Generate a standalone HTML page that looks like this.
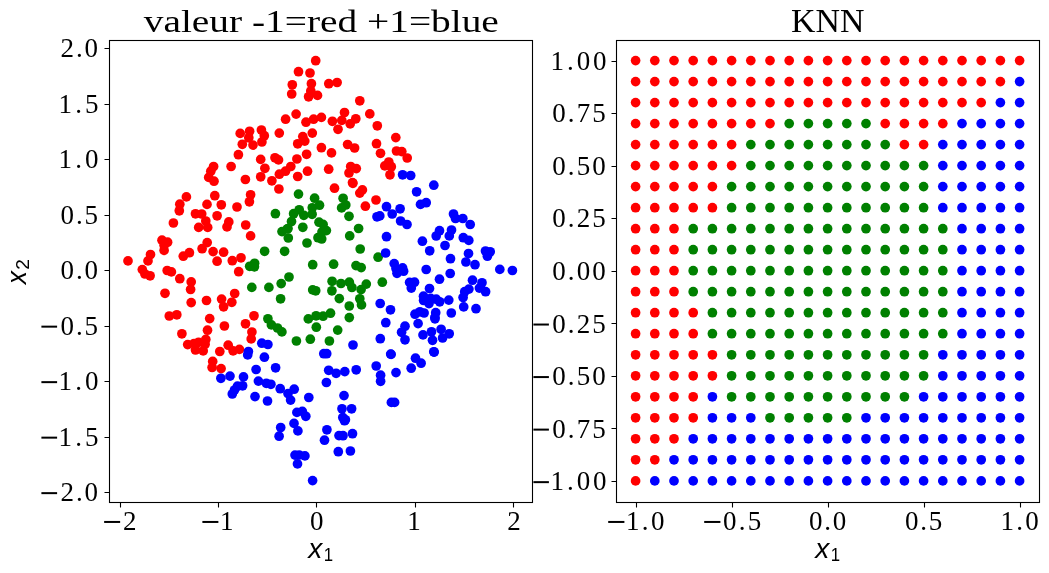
<!DOCTYPE html><html><head><meta charset="utf-8"><style>html,body{margin:0;padding:0;background:#fff;}svg{display:block;will-change:transform;}text{font-family:"Liberation Serif",serif;fill:#000;}</style></head><body><svg width="1049" height="573" viewBox="0 0 1049 573"><rect width="1049" height="573" fill="#fff"/><g fill="#ff0000"><circle cx="315.7" cy="60.7" r="4.85"/><circle cx="298.5" cy="71.7" r="4.85"/><circle cx="310.0" cy="73.0" r="4.85"/><circle cx="292.3" cy="84.8" r="4.85"/><circle cx="311.4" cy="83.7" r="4.85"/><circle cx="291.7" cy="94.0" r="4.85"/><circle cx="308.6" cy="96.8" r="4.85"/><circle cx="317.5" cy="95.4" r="4.85"/><circle cx="310.8" cy="91.0" r="4.85"/><circle cx="328.8" cy="83.7" r="4.85"/><circle cx="337.1" cy="82.5" r="4.85"/><circle cx="359.8" cy="100.8" r="4.85"/><circle cx="296.1" cy="114.1" r="4.85"/><circle cx="285.6" cy="119.2" r="4.85"/><circle cx="306.0" cy="122.2" r="4.85"/><circle cx="313.6" cy="119.2" r="4.85"/><circle cx="321.4" cy="117.4" r="4.85"/><circle cx="332.4" cy="121.3" r="4.85"/><circle cx="344.5" cy="112.5" r="4.85"/><circle cx="341.8" cy="120.4" r="4.85"/><circle cx="338.0" cy="129.3" r="4.85"/><circle cx="350.2" cy="123.9" r="4.85"/><circle cx="355.8" cy="118.8" r="4.85"/><circle cx="369.8" cy="113.9" r="4.85"/><circle cx="377.3" cy="125.8" r="4.85"/><circle cx="312.3" cy="133.1" r="4.85"/><circle cx="279.3" cy="133.1" r="4.85"/><circle cx="302.8" cy="136.6" r="4.85"/><circle cx="240.2" cy="133.4" r="4.85"/><circle cx="249.6" cy="131.3" r="4.85"/><circle cx="261.4" cy="130.0" r="4.85"/><circle cx="264.3" cy="135.7" r="4.85"/><circle cx="242.3" cy="144.3" r="4.85"/><circle cx="253.0" cy="145.1" r="4.85"/><circle cx="261.9" cy="142.0" r="4.85"/><circle cx="248.8" cy="137.8" r="4.85"/><circle cx="395.8" cy="137.6" r="4.85"/><circle cx="376.5" cy="143.7" r="4.85"/><circle cx="380.5" cy="153.3" r="4.85"/><circle cx="396.5" cy="151.0" r="4.85"/><circle cx="401.8" cy="151.6" r="4.85"/><circle cx="407.2" cy="158.0" r="4.85"/><circle cx="388.8" cy="162.0" r="4.85"/><circle cx="384.8" cy="165.9" r="4.85"/><circle cx="391.3" cy="166.7" r="4.85"/><circle cx="390.0" cy="174.8" r="4.85"/><circle cx="297.7" cy="143.8" r="4.85"/><circle cx="238.4" cy="154.7" r="4.85"/><circle cx="260.7" cy="159.4" r="4.85"/><circle cx="275.0" cy="157.8" r="4.85"/><circle cx="278.5" cy="159.9" r="4.85"/><circle cx="296.9" cy="159.0" r="4.85"/><circle cx="213.6" cy="166.5" r="4.85"/><circle cx="210.8" cy="171.2" r="4.85"/><circle cx="231.1" cy="166.5" r="4.85"/><circle cx="264.9" cy="168.3" r="4.85"/><circle cx="290.8" cy="166.5" r="4.85"/><circle cx="285.5" cy="171.2" r="4.85"/><circle cx="279.4" cy="174.2" r="4.85"/><circle cx="208.7" cy="177.4" r="4.85"/><circle cx="214.0" cy="181.2" r="4.85"/><circle cx="245.4" cy="179.5" r="4.85"/><circle cx="260.7" cy="176.8" r="4.85"/><circle cx="271.9" cy="180.8" r="4.85"/><circle cx="297.7" cy="176.5" r="4.85"/><circle cx="278.9" cy="189.0" r="4.85"/><circle cx="214.8" cy="195.7" r="4.85"/><circle cx="250.6" cy="194.8" r="4.85"/><circle cx="249.4" cy="201.8" r="4.85"/><circle cx="207.0" cy="204.4" r="4.85"/><circle cx="221.3" cy="204.8" r="4.85"/><circle cx="237.0" cy="207.0" r="4.85"/><circle cx="201.7" cy="214.0" r="4.85"/><circle cx="217.1" cy="215.8" r="4.85"/><circle cx="205.8" cy="221.0" r="4.85"/><circle cx="228.8" cy="221.9" r="4.85"/><circle cx="245.7" cy="225.0" r="4.85"/><circle cx="304.8" cy="141.1" r="4.85"/><circle cx="321.4" cy="147.7" r="4.85"/><circle cx="331.5" cy="152.9" r="4.85"/><circle cx="347.6" cy="144.5" r="4.85"/><circle cx="354.6" cy="148.0" r="4.85"/><circle cx="306.6" cy="154.3" r="4.85"/><circle cx="307.5" cy="171.2" r="4.85"/><circle cx="328.7" cy="169.2" r="4.85"/><circle cx="350.7" cy="166.5" r="4.85"/><circle cx="356.3" cy="168.6" r="4.85"/><circle cx="349.0" cy="173.0" r="4.85"/><circle cx="352.5" cy="182.6" r="4.85"/><circle cx="334.5" cy="188.2" r="4.85"/><circle cx="359.8" cy="193.1" r="4.85"/><circle cx="362.4" cy="189.9" r="4.85"/><circle cx="376.0" cy="200.0" r="4.85"/><circle cx="365.4" cy="206.2" r="4.85"/><circle cx="352.9" cy="183.3" r="4.85"/><circle cx="186.4" cy="196.9" r="4.85"/><circle cx="179.8" cy="204.2" r="4.85"/><circle cx="179.3" cy="210.8" r="4.85"/><circle cx="173.4" cy="223.0" r="4.85"/><circle cx="195.5" cy="213.8" r="4.85"/><circle cx="198.7" cy="227.4" r="4.85"/><circle cx="207.7" cy="227.4" r="4.85"/><circle cx="162.0" cy="240.2" r="4.85"/><circle cx="164.1" cy="245.5" r="4.85"/><circle cx="167.6" cy="242.2" r="4.85"/><circle cx="164.1" cy="250.4" r="4.85"/><circle cx="207.2" cy="242.6" r="4.85"/><circle cx="202.1" cy="248.7" r="4.85"/><circle cx="150.5" cy="254.5" r="4.85"/><circle cx="148.0" cy="260.9" r="4.85"/><circle cx="128.0" cy="260.9" r="4.85"/><circle cx="183.3" cy="256.2" r="4.85"/><circle cx="189.4" cy="252.7" r="4.85"/><circle cx="142.3" cy="269.6" r="4.85"/><circle cx="150.1" cy="275.8" r="4.85"/><circle cx="144.9" cy="274.0" r="4.85"/><circle cx="167.2" cy="270.5" r="4.85"/><circle cx="171.4" cy="271.9" r="4.85"/><circle cx="179.8" cy="278.7" r="4.85"/><circle cx="191.2" cy="281.9" r="4.85"/><circle cx="227.0" cy="226.9" r="4.85"/><circle cx="250.6" cy="235.9" r="4.85"/><circle cx="213.1" cy="251.6" r="4.85"/><circle cx="223.6" cy="252.2" r="4.85"/><circle cx="217.1" cy="261.2" r="4.85"/><circle cx="232.3" cy="260.7" r="4.85"/><circle cx="241.0" cy="257.8" r="4.85"/><circle cx="238.7" cy="271.7" r="4.85"/><circle cx="206.5" cy="300.5" r="4.85"/><circle cx="221.6" cy="299.1" r="4.85"/><circle cx="234.7" cy="293.5" r="4.85"/><circle cx="231.8" cy="302.3" r="4.85"/><circle cx="223.6" cy="306.8" r="4.85"/><circle cx="190.6" cy="289.5" r="4.85"/><circle cx="165.0" cy="293.3" r="4.85"/><circle cx="191.2" cy="302.6" r="4.85"/><circle cx="169.3" cy="316.0" r="4.85"/><circle cx="176.8" cy="314.8" r="4.85"/><circle cx="209.7" cy="318.6" r="4.85"/><circle cx="181.9" cy="333.8" r="4.85"/><circle cx="207.5" cy="330.2" r="4.85"/><circle cx="205.8" cy="339.4" r="4.85"/><circle cx="187.7" cy="344.6" r="4.85"/><circle cx="194.0" cy="343.5" r="4.85"/><circle cx="198.6" cy="342.3" r="4.85"/><circle cx="195.5" cy="350.0" r="4.85"/><circle cx="203.2" cy="350.9" r="4.85"/><circle cx="205.1" cy="344.2" r="4.85"/><circle cx="212.7" cy="361.4" r="4.85"/><circle cx="212.1" cy="367.5" r="4.85"/><circle cx="221.1" cy="368.6" r="4.85"/><circle cx="254.0" cy="315.8" r="4.85"/><circle cx="224.4" cy="326.0" r="4.85"/><circle cx="245.5" cy="323.8" r="4.85"/><circle cx="251.9" cy="332.0" r="4.85"/><circle cx="251.2" cy="338.9" r="4.85"/><circle cx="219.8" cy="351.5" r="4.85"/><circle cx="228.2" cy="345.2" r="4.85"/><circle cx="233.1" cy="350.8" r="4.85"/><circle cx="239.4" cy="349.4" r="4.85"/></g><g fill="#008000"><circle cx="298.5" cy="194.1" r="4.85"/><circle cx="314.6" cy="198.2" r="4.85"/><circle cx="319.5" cy="205.2" r="4.85"/><circle cx="312.3" cy="207.8" r="4.85"/><circle cx="312.1" cy="214.3" r="4.85"/><circle cx="299.2" cy="209.8" r="4.85"/><circle cx="293.6" cy="213.7" r="4.85"/><circle cx="303.8" cy="215.3" r="4.85"/><circle cx="291.5" cy="221.5" r="4.85"/><circle cx="288.0" cy="228.5" r="4.85"/><circle cx="302.8" cy="227.3" r="4.85"/><circle cx="319.0" cy="222.2" r="4.85"/><circle cx="323.1" cy="224.4" r="4.85"/><circle cx="326.4" cy="230.6" r="4.85"/><circle cx="322.0" cy="232.0" r="4.85"/><circle cx="318.0" cy="237.7" r="4.85"/><circle cx="321.7" cy="239.0" r="4.85"/><circle cx="307.0" cy="243.0" r="4.85"/><circle cx="288.3" cy="238.0" r="4.85"/><circle cx="343.1" cy="198.3" r="4.85"/><circle cx="345.8" cy="205.0" r="4.85"/><circle cx="341.6" cy="207.9" r="4.85"/><circle cx="349.0" cy="216.3" r="4.85"/><circle cx="358.6" cy="228.5" r="4.85"/><circle cx="275.4" cy="213.7" r="4.85"/><circle cx="282.0" cy="231.6" r="4.85"/><circle cx="287.3" cy="229.0" r="4.85"/><circle cx="264.6" cy="251.3" r="4.85"/><circle cx="284.6" cy="251.3" r="4.85"/><circle cx="249.7" cy="266.3" r="4.85"/><circle cx="254.6" cy="263.3" r="4.85"/><circle cx="254.4" cy="266.8" r="4.85"/><circle cx="289.0" cy="277.0" r="4.85"/><circle cx="281.2" cy="283.6" r="4.85"/><circle cx="251.8" cy="287.4" r="4.85"/><circle cx="268.9" cy="287.4" r="4.85"/><circle cx="280.6" cy="298.8" r="4.85"/><circle cx="349.7" cy="235.9" r="4.85"/><circle cx="360.2" cy="249.0" r="4.85"/><circle cx="378.1" cy="257.2" r="4.85"/><circle cx="312.7" cy="264.7" r="4.85"/><circle cx="333.6" cy="264.2" r="4.85"/><circle cx="356.0" cy="265.6" r="4.85"/><circle cx="361.2" cy="267.6" r="4.85"/><circle cx="332.1" cy="281.3" r="4.85"/><circle cx="341.0" cy="283.5" r="4.85"/><circle cx="349.3" cy="282.2" r="4.85"/><circle cx="351.9" cy="287.5" r="4.85"/><circle cx="366.3" cy="284.1" r="4.85"/><circle cx="361.1" cy="289.6" r="4.85"/><circle cx="382.3" cy="282.2" r="4.85"/><circle cx="312.7" cy="289.9" r="4.85"/><circle cx="315.7" cy="290.8" r="4.85"/><circle cx="331.9" cy="290.8" r="4.85"/><circle cx="339.3" cy="298.6" r="4.85"/><circle cx="359.8" cy="298.8" r="4.85"/><circle cx="361.5" cy="304.9" r="4.85"/><circle cx="349.3" cy="306.0" r="4.85"/><circle cx="330.5" cy="313.2" r="4.85"/><circle cx="323.1" cy="316.2" r="4.85"/><circle cx="316.1" cy="315.8" r="4.85"/><circle cx="308.3" cy="318.9" r="4.85"/><circle cx="349.3" cy="317.6" r="4.85"/><circle cx="267.9" cy="318.8" r="4.85"/><circle cx="271.4" cy="324.9" r="4.85"/><circle cx="277.5" cy="328.0" r="4.85"/><circle cx="281.9" cy="331.9" r="4.85"/><circle cx="316.3" cy="327.2" r="4.85"/><circle cx="310.3" cy="339.2" r="4.85"/><circle cx="296.4" cy="341.0" r="4.85"/><circle cx="329.4" cy="341.0" r="4.85"/><circle cx="337.7" cy="330.1" r="4.85"/></g><g fill="#0000ff"><circle cx="402.6" cy="174.8" r="4.85"/><circle cx="410.7" cy="175.5" r="4.85"/><circle cx="433.8" cy="185.2" r="4.85"/><circle cx="416.6" cy="191.8" r="4.85"/><circle cx="420.5" cy="204.4" r="4.85"/><circle cx="426.2" cy="202.7" r="4.85"/><circle cx="386.5" cy="206.7" r="4.85"/><circle cx="400.1" cy="208.8" r="4.85"/><circle cx="392.2" cy="214.0" r="4.85"/><circle cx="377.0" cy="216.8" r="4.85"/><circle cx="379.8" cy="215.9" r="4.85"/><circle cx="400.6" cy="221.0" r="4.85"/><circle cx="407.0" cy="224.5" r="4.85"/><circle cx="453.5" cy="214.0" r="4.85"/><circle cx="455.5" cy="218.5" r="4.85"/><circle cx="462.8" cy="218.5" r="4.85"/><circle cx="470.2" cy="224.5" r="4.85"/><circle cx="386.5" cy="236.7" r="4.85"/><circle cx="385.6" cy="253.0" r="4.85"/><circle cx="394.2" cy="263.6" r="4.85"/><circle cx="402.6" cy="267.9" r="4.85"/><circle cx="397.0" cy="273.3" r="4.85"/><circle cx="396.0" cy="268.5" r="4.85"/><circle cx="403.6" cy="271.2" r="4.85"/><circle cx="422.4" cy="241.2" r="4.85"/><circle cx="429.7" cy="250.8" r="4.85"/><circle cx="439.5" cy="230.7" r="4.85"/><circle cx="436.2" cy="236.0" r="4.85"/><circle cx="451.5" cy="230.0" r="4.85"/><circle cx="449.3" cy="235.9" r="4.85"/><circle cx="445.0" cy="245.5" r="4.85"/><circle cx="463.3" cy="237.7" r="4.85"/><circle cx="468.8" cy="240.4" r="4.85"/><circle cx="468.5" cy="253.5" r="4.85"/><circle cx="465.9" cy="262.0" r="4.85"/><circle cx="475.0" cy="264.7" r="4.85"/><circle cx="450.5" cy="258.7" r="4.85"/><circle cx="426.2" cy="269.5" r="4.85"/><circle cx="450.2" cy="273.5" r="4.85"/><circle cx="439.5" cy="279.2" r="4.85"/><circle cx="409.6" cy="282.4" r="4.85"/><circle cx="414.5" cy="282.2" r="4.85"/><circle cx="411.3" cy="288.1" r="4.85"/><circle cx="429.5" cy="288.5" r="4.85"/><circle cx="423.5" cy="296.2" r="4.85"/><circle cx="430.7" cy="298.4" r="4.85"/><circle cx="429.0" cy="303.6" r="4.85"/><circle cx="436.2" cy="299.2" r="4.85"/><circle cx="439.7" cy="301.8" r="4.85"/><circle cx="448.8" cy="300.1" r="4.85"/><circle cx="472.5" cy="280.2" r="4.85"/><circle cx="482.0" cy="282.8" r="4.85"/><circle cx="479.4" cy="288.1" r="4.85"/><circle cx="485.6" cy="291.7" r="4.85"/><circle cx="468.9" cy="289.1" r="4.85"/><circle cx="464.7" cy="291.7" r="4.85"/><circle cx="463.1" cy="297.5" r="4.85"/><circle cx="463.7" cy="306.9" r="4.85"/><circle cx="476.0" cy="308.7" r="4.85"/><circle cx="451.3" cy="313.0" r="4.85"/><circle cx="380.2" cy="303.5" r="4.85"/><circle cx="390.5" cy="309.8" r="4.85"/><circle cx="415.0" cy="314.2" r="4.85"/><circle cx="419.9" cy="311.8" r="4.85"/><circle cx="424.1" cy="313.0" r="4.85"/><circle cx="435.7" cy="312.7" r="4.85"/><circle cx="434.9" cy="317.5" r="4.85"/><circle cx="485.5" cy="251.0" r="4.85"/><circle cx="490.2" cy="251.8" r="4.85"/><circle cx="487.4" cy="256.2" r="4.85"/><circle cx="499.8" cy="269.4" r="4.85"/><circle cx="512.4" cy="270.5" r="4.85"/><circle cx="385.8" cy="322.7" r="4.85"/><circle cx="423.6" cy="300.5" r="4.85"/><circle cx="418.1" cy="323.6" r="4.85"/><circle cx="405.0" cy="326.2" r="4.85"/><circle cx="401.6" cy="332.3" r="4.85"/><circle cx="405.0" cy="339.8" r="4.85"/><circle cx="423.0" cy="334.9" r="4.85"/><circle cx="380.3" cy="338.7" r="4.85"/><circle cx="353.0" cy="345.0" r="4.85"/><circle cx="390.7" cy="354.1" r="4.85"/><circle cx="415.5" cy="358.2" r="4.85"/><circle cx="421.1" cy="363.2" r="4.85"/><circle cx="411.2" cy="368.2" r="4.85"/><circle cx="376.2" cy="366.0" r="4.85"/><circle cx="380.6" cy="375.2" r="4.85"/><circle cx="380.6" cy="381.3" r="4.85"/><circle cx="396.0" cy="372.6" r="4.85"/><circle cx="356.2" cy="369.8" r="4.85"/><circle cx="344.8" cy="371.6" r="4.85"/><circle cx="336.1" cy="373.3" r="4.85"/><circle cx="328.7" cy="370.3" r="4.85"/><circle cx="326.4" cy="382.5" r="4.85"/><circle cx="344.0" cy="395.6" r="4.85"/><circle cx="323.8" cy="353.7" r="4.85"/><circle cx="326.7" cy="353.7" r="4.85"/><circle cx="434.2" cy="352.1" r="4.85"/><circle cx="435.0" cy="318.8" r="4.85"/><circle cx="431.5" cy="331.8" r="4.85"/><circle cx="441.1" cy="329.3" r="4.85"/><circle cx="449.2" cy="333.8" r="4.85"/><circle cx="442.6" cy="338.0" r="4.85"/><circle cx="432.5" cy="340.3" r="4.85"/><circle cx="433.8" cy="351.8" r="4.85"/><circle cx="391.4" cy="402.4" r="4.85"/><circle cx="394.6" cy="402.4" r="4.85"/><circle cx="391.1" cy="354.4" r="4.85"/><circle cx="248.4" cy="351.5" r="4.85"/><circle cx="247.7" cy="354.9" r="4.85"/><circle cx="256.1" cy="369.5" r="4.85"/><circle cx="261.8" cy="343.2" r="4.85"/><circle cx="267.9" cy="344.5" r="4.85"/><circle cx="264.4" cy="357.2" r="4.85"/><circle cx="275.6" cy="367.8" r="4.85"/><circle cx="243.5" cy="376.9" r="4.85"/><circle cx="242.6" cy="385.8" r="4.85"/><circle cx="258.4" cy="381.1" r="4.85"/><circle cx="266.3" cy="383.3" r="4.85"/><circle cx="270.9" cy="384.3" r="4.85"/><circle cx="280.2" cy="388.7" r="4.85"/><circle cx="294.2" cy="389.2" r="4.85"/><circle cx="220.9" cy="378.3" r="4.85"/><circle cx="230.0" cy="376.1" r="4.85"/><circle cx="237.5" cy="386.2" r="4.85"/><circle cx="234.5" cy="390.0" r="4.85"/><circle cx="232.3" cy="394.0" r="4.85"/><circle cx="255.0" cy="396.6" r="4.85"/><circle cx="267.5" cy="401.0" r="4.85"/><circle cx="288.0" cy="393.6" r="4.85"/><circle cx="290.6" cy="400.1" r="4.85"/><circle cx="296.9" cy="412.4" r="4.85"/><circle cx="294.0" cy="423.4" r="4.85"/><circle cx="297.9" cy="430.9" r="4.85"/><circle cx="280.7" cy="427.5" r="4.85"/><circle cx="279.1" cy="436.2" r="4.85"/><circle cx="295.0" cy="455.1" r="4.85"/><circle cx="299.2" cy="455.0" r="4.85"/><circle cx="304.9" cy="455.9" r="4.85"/><circle cx="297.5" cy="463.9" r="4.85"/><circle cx="312.6" cy="480.6" r="4.85"/><circle cx="308.8" cy="397.5" r="4.85"/><circle cx="302.3" cy="411.4" r="4.85"/><circle cx="305.8" cy="416.3" r="4.85"/><circle cx="342.0" cy="408.8" r="4.85"/><circle cx="351.6" cy="408.8" r="4.85"/><circle cx="342.8" cy="417.5" r="4.85"/><circle cx="345.4" cy="419.8" r="4.85"/><circle cx="326.9" cy="429.8" r="4.85"/><circle cx="324.5" cy="440.2" r="4.85"/><circle cx="339.0" cy="435.6" r="4.85"/><circle cx="343.0" cy="435.7" r="4.85"/><circle cx="352.5" cy="433.7" r="4.85"/><circle cx="338.3" cy="451.7" r="4.85"/><circle cx="350.4" cy="451.0" r="4.85"/><circle cx="344.5" cy="420.7" r="4.85"/></g><g fill="#ff0000"><circle cx="635.6" cy="60.6" r="4.85"/><circle cx="654.8" cy="60.6" r="4.85"/><circle cx="674.0" cy="60.6" r="4.85"/><circle cx="693.2" cy="60.6" r="4.85"/><circle cx="712.4" cy="60.6" r="4.85"/><circle cx="731.6" cy="60.6" r="4.85"/><circle cx="750.8" cy="60.6" r="4.85"/><circle cx="770.0" cy="60.6" r="4.85"/><circle cx="789.2" cy="60.6" r="4.85"/><circle cx="808.4" cy="60.6" r="4.85"/><circle cx="827.6" cy="60.6" r="4.85"/><circle cx="846.8" cy="60.6" r="4.85"/><circle cx="866.0" cy="60.6" r="4.85"/><circle cx="885.2" cy="60.6" r="4.85"/><circle cx="904.4" cy="60.6" r="4.85"/><circle cx="923.6" cy="60.6" r="4.85"/><circle cx="942.8" cy="60.6" r="4.85"/><circle cx="962.0" cy="60.6" r="4.85"/><circle cx="981.2" cy="60.6" r="4.85"/><circle cx="1000.4" cy="60.6" r="4.85"/><circle cx="1019.6" cy="60.6" r="4.85"/><circle cx="635.6" cy="81.6" r="4.85"/><circle cx="654.8" cy="81.6" r="4.85"/><circle cx="674.0" cy="81.6" r="4.85"/><circle cx="693.2" cy="81.6" r="4.85"/><circle cx="712.4" cy="81.6" r="4.85"/><circle cx="731.6" cy="81.6" r="4.85"/><circle cx="750.8" cy="81.6" r="4.85"/><circle cx="770.0" cy="81.6" r="4.85"/><circle cx="789.2" cy="81.6" r="4.85"/><circle cx="808.4" cy="81.6" r="4.85"/><circle cx="827.6" cy="81.6" r="4.85"/><circle cx="846.8" cy="81.6" r="4.85"/><circle cx="866.0" cy="81.6" r="4.85"/><circle cx="885.2" cy="81.6" r="4.85"/><circle cx="904.4" cy="81.6" r="4.85"/><circle cx="923.6" cy="81.6" r="4.85"/><circle cx="942.8" cy="81.6" r="4.85"/><circle cx="962.0" cy="81.6" r="4.85"/><circle cx="981.2" cy="81.6" r="4.85"/><circle cx="1000.4" cy="81.6" r="4.85"/><circle cx="635.6" cy="102.6" r="4.85"/><circle cx="654.8" cy="102.6" r="4.85"/><circle cx="674.0" cy="102.6" r="4.85"/><circle cx="693.2" cy="102.6" r="4.85"/><circle cx="712.4" cy="102.6" r="4.85"/><circle cx="731.6" cy="102.6" r="4.85"/><circle cx="750.8" cy="102.6" r="4.85"/><circle cx="770.0" cy="102.6" r="4.85"/><circle cx="789.2" cy="102.6" r="4.85"/><circle cx="808.4" cy="102.6" r="4.85"/><circle cx="827.6" cy="102.6" r="4.85"/><circle cx="846.8" cy="102.6" r="4.85"/><circle cx="866.0" cy="102.6" r="4.85"/><circle cx="885.2" cy="102.6" r="4.85"/><circle cx="904.4" cy="102.6" r="4.85"/><circle cx="923.6" cy="102.6" r="4.85"/><circle cx="942.8" cy="102.6" r="4.85"/><circle cx="962.0" cy="102.6" r="4.85"/><circle cx="981.2" cy="102.6" r="4.85"/><circle cx="635.6" cy="123.6" r="4.85"/><circle cx="654.8" cy="123.6" r="4.85"/><circle cx="674.0" cy="123.6" r="4.85"/><circle cx="693.2" cy="123.6" r="4.85"/><circle cx="712.4" cy="123.6" r="4.85"/><circle cx="731.6" cy="123.6" r="4.85"/><circle cx="750.8" cy="123.6" r="4.85"/><circle cx="770.0" cy="123.6" r="4.85"/><circle cx="885.2" cy="123.6" r="4.85"/><circle cx="904.4" cy="123.6" r="4.85"/><circle cx="923.6" cy="123.6" r="4.85"/><circle cx="942.8" cy="123.6" r="4.85"/><circle cx="635.6" cy="144.6" r="4.85"/><circle cx="654.8" cy="144.6" r="4.85"/><circle cx="674.0" cy="144.6" r="4.85"/><circle cx="693.2" cy="144.6" r="4.85"/><circle cx="712.4" cy="144.6" r="4.85"/><circle cx="731.6" cy="144.6" r="4.85"/><circle cx="904.4" cy="144.6" r="4.85"/><circle cx="923.6" cy="144.6" r="4.85"/><circle cx="635.6" cy="165.6" r="4.85"/><circle cx="654.8" cy="165.6" r="4.85"/><circle cx="674.0" cy="165.6" r="4.85"/><circle cx="693.2" cy="165.6" r="4.85"/><circle cx="712.4" cy="165.6" r="4.85"/><circle cx="731.6" cy="165.6" r="4.85"/><circle cx="635.6" cy="186.6" r="4.85"/><circle cx="654.8" cy="186.6" r="4.85"/><circle cx="674.0" cy="186.6" r="4.85"/><circle cx="693.2" cy="186.6" r="4.85"/><circle cx="712.4" cy="186.6" r="4.85"/><circle cx="635.6" cy="207.7" r="4.85"/><circle cx="654.8" cy="207.7" r="4.85"/><circle cx="674.0" cy="207.7" r="4.85"/><circle cx="693.2" cy="207.7" r="4.85"/><circle cx="712.4" cy="207.7" r="4.85"/><circle cx="635.6" cy="228.7" r="4.85"/><circle cx="654.8" cy="228.7" r="4.85"/><circle cx="674.0" cy="228.7" r="4.85"/><circle cx="635.6" cy="249.7" r="4.85"/><circle cx="654.8" cy="249.7" r="4.85"/><circle cx="674.0" cy="249.7" r="4.85"/><circle cx="635.6" cy="270.7" r="4.85"/><circle cx="654.8" cy="270.7" r="4.85"/><circle cx="674.0" cy="270.7" r="4.85"/><circle cx="635.6" cy="291.7" r="4.85"/><circle cx="654.8" cy="291.7" r="4.85"/><circle cx="674.0" cy="291.7" r="4.85"/><circle cx="635.6" cy="312.7" r="4.85"/><circle cx="654.8" cy="312.7" r="4.85"/><circle cx="674.0" cy="312.7" r="4.85"/><circle cx="693.2" cy="312.7" r="4.85"/><circle cx="635.6" cy="333.7" r="4.85"/><circle cx="654.8" cy="333.7" r="4.85"/><circle cx="674.0" cy="333.7" r="4.85"/><circle cx="693.2" cy="333.7" r="4.85"/><circle cx="635.6" cy="354.8" r="4.85"/><circle cx="654.8" cy="354.8" r="4.85"/><circle cx="674.0" cy="354.8" r="4.85"/><circle cx="693.2" cy="354.8" r="4.85"/><circle cx="712.4" cy="354.8" r="4.85"/><circle cx="635.6" cy="375.8" r="4.85"/><circle cx="654.8" cy="375.8" r="4.85"/><circle cx="674.0" cy="375.8" r="4.85"/><circle cx="693.2" cy="375.8" r="4.85"/><circle cx="712.4" cy="375.8" r="4.85"/><circle cx="635.6" cy="396.8" r="4.85"/><circle cx="654.8" cy="396.8" r="4.85"/><circle cx="674.0" cy="396.8" r="4.85"/><circle cx="693.2" cy="396.8" r="4.85"/><circle cx="635.6" cy="417.8" r="4.85"/><circle cx="654.8" cy="417.8" r="4.85"/><circle cx="674.0" cy="417.8" r="4.85"/><circle cx="693.2" cy="417.8" r="4.85"/><circle cx="635.6" cy="438.8" r="4.85"/><circle cx="654.8" cy="438.8" r="4.85"/><circle cx="674.0" cy="438.8" r="4.85"/><circle cx="635.6" cy="459.8" r="4.85"/><circle cx="654.8" cy="459.8" r="4.85"/><circle cx="635.6" cy="480.9" r="4.85"/></g><g fill="#008000"><circle cx="789.2" cy="123.6" r="4.85"/><circle cx="808.4" cy="123.6" r="4.85"/><circle cx="827.6" cy="123.6" r="4.85"/><circle cx="846.8" cy="123.6" r="4.85"/><circle cx="866.0" cy="123.6" r="4.85"/><circle cx="750.8" cy="144.6" r="4.85"/><circle cx="770.0" cy="144.6" r="4.85"/><circle cx="789.2" cy="144.6" r="4.85"/><circle cx="808.4" cy="144.6" r="4.85"/><circle cx="827.6" cy="144.6" r="4.85"/><circle cx="846.8" cy="144.6" r="4.85"/><circle cx="866.0" cy="144.6" r="4.85"/><circle cx="885.2" cy="144.6" r="4.85"/><circle cx="750.8" cy="165.6" r="4.85"/><circle cx="770.0" cy="165.6" r="4.85"/><circle cx="789.2" cy="165.6" r="4.85"/><circle cx="808.4" cy="165.6" r="4.85"/><circle cx="827.6" cy="165.6" r="4.85"/><circle cx="846.8" cy="165.6" r="4.85"/><circle cx="866.0" cy="165.6" r="4.85"/><circle cx="885.2" cy="165.6" r="4.85"/><circle cx="904.4" cy="165.6" r="4.85"/><circle cx="923.6" cy="165.6" r="4.85"/><circle cx="731.6" cy="186.6" r="4.85"/><circle cx="750.8" cy="186.6" r="4.85"/><circle cx="770.0" cy="186.6" r="4.85"/><circle cx="789.2" cy="186.6" r="4.85"/><circle cx="808.4" cy="186.6" r="4.85"/><circle cx="827.6" cy="186.6" r="4.85"/><circle cx="846.8" cy="186.6" r="4.85"/><circle cx="866.0" cy="186.6" r="4.85"/><circle cx="885.2" cy="186.6" r="4.85"/><circle cx="904.4" cy="186.6" r="4.85"/><circle cx="923.6" cy="186.6" r="4.85"/><circle cx="731.6" cy="207.7" r="4.85"/><circle cx="750.8" cy="207.7" r="4.85"/><circle cx="770.0" cy="207.7" r="4.85"/><circle cx="789.2" cy="207.7" r="4.85"/><circle cx="808.4" cy="207.7" r="4.85"/><circle cx="827.6" cy="207.7" r="4.85"/><circle cx="846.8" cy="207.7" r="4.85"/><circle cx="866.0" cy="207.7" r="4.85"/><circle cx="885.2" cy="207.7" r="4.85"/><circle cx="904.4" cy="207.7" r="4.85"/><circle cx="923.6" cy="207.7" r="4.85"/><circle cx="693.2" cy="228.7" r="4.85"/><circle cx="712.4" cy="228.7" r="4.85"/><circle cx="731.6" cy="228.7" r="4.85"/><circle cx="750.8" cy="228.7" r="4.85"/><circle cx="770.0" cy="228.7" r="4.85"/><circle cx="789.2" cy="228.7" r="4.85"/><circle cx="808.4" cy="228.7" r="4.85"/><circle cx="827.6" cy="228.7" r="4.85"/><circle cx="846.8" cy="228.7" r="4.85"/><circle cx="866.0" cy="228.7" r="4.85"/><circle cx="885.2" cy="228.7" r="4.85"/><circle cx="904.4" cy="228.7" r="4.85"/><circle cx="923.6" cy="228.7" r="4.85"/><circle cx="942.8" cy="228.7" r="4.85"/><circle cx="693.2" cy="249.7" r="4.85"/><circle cx="712.4" cy="249.7" r="4.85"/><circle cx="731.6" cy="249.7" r="4.85"/><circle cx="750.8" cy="249.7" r="4.85"/><circle cx="770.0" cy="249.7" r="4.85"/><circle cx="789.2" cy="249.7" r="4.85"/><circle cx="808.4" cy="249.7" r="4.85"/><circle cx="827.6" cy="249.7" r="4.85"/><circle cx="846.8" cy="249.7" r="4.85"/><circle cx="866.0" cy="249.7" r="4.85"/><circle cx="885.2" cy="249.7" r="4.85"/><circle cx="904.4" cy="249.7" r="4.85"/><circle cx="923.6" cy="249.7" r="4.85"/><circle cx="942.8" cy="249.7" r="4.85"/><circle cx="693.2" cy="270.7" r="4.85"/><circle cx="712.4" cy="270.7" r="4.85"/><circle cx="731.6" cy="270.7" r="4.85"/><circle cx="750.8" cy="270.7" r="4.85"/><circle cx="770.0" cy="270.7" r="4.85"/><circle cx="789.2" cy="270.7" r="4.85"/><circle cx="808.4" cy="270.7" r="4.85"/><circle cx="827.6" cy="270.7" r="4.85"/><circle cx="846.8" cy="270.7" r="4.85"/><circle cx="866.0" cy="270.7" r="4.85"/><circle cx="885.2" cy="270.7" r="4.85"/><circle cx="904.4" cy="270.7" r="4.85"/><circle cx="923.6" cy="270.7" r="4.85"/><circle cx="942.8" cy="270.7" r="4.85"/><circle cx="693.2" cy="291.7" r="4.85"/><circle cx="712.4" cy="291.7" r="4.85"/><circle cx="731.6" cy="291.7" r="4.85"/><circle cx="750.8" cy="291.7" r="4.85"/><circle cx="770.0" cy="291.7" r="4.85"/><circle cx="789.2" cy="291.7" r="4.85"/><circle cx="808.4" cy="291.7" r="4.85"/><circle cx="827.6" cy="291.7" r="4.85"/><circle cx="846.8" cy="291.7" r="4.85"/><circle cx="866.0" cy="291.7" r="4.85"/><circle cx="885.2" cy="291.7" r="4.85"/><circle cx="904.4" cy="291.7" r="4.85"/><circle cx="923.6" cy="291.7" r="4.85"/><circle cx="942.8" cy="291.7" r="4.85"/><circle cx="712.4" cy="312.7" r="4.85"/><circle cx="731.6" cy="312.7" r="4.85"/><circle cx="750.8" cy="312.7" r="4.85"/><circle cx="770.0" cy="312.7" r="4.85"/><circle cx="789.2" cy="312.7" r="4.85"/><circle cx="808.4" cy="312.7" r="4.85"/><circle cx="827.6" cy="312.7" r="4.85"/><circle cx="846.8" cy="312.7" r="4.85"/><circle cx="866.0" cy="312.7" r="4.85"/><circle cx="885.2" cy="312.7" r="4.85"/><circle cx="904.4" cy="312.7" r="4.85"/><circle cx="923.6" cy="312.7" r="4.85"/><circle cx="942.8" cy="312.7" r="4.85"/><circle cx="712.4" cy="333.7" r="4.85"/><circle cx="731.6" cy="333.7" r="4.85"/><circle cx="750.8" cy="333.7" r="4.85"/><circle cx="770.0" cy="333.7" r="4.85"/><circle cx="789.2" cy="333.7" r="4.85"/><circle cx="808.4" cy="333.7" r="4.85"/><circle cx="827.6" cy="333.7" r="4.85"/><circle cx="846.8" cy="333.7" r="4.85"/><circle cx="866.0" cy="333.7" r="4.85"/><circle cx="885.2" cy="333.7" r="4.85"/><circle cx="904.4" cy="333.7" r="4.85"/><circle cx="923.6" cy="333.7" r="4.85"/><circle cx="942.8" cy="333.7" r="4.85"/><circle cx="731.6" cy="354.8" r="4.85"/><circle cx="750.8" cy="354.8" r="4.85"/><circle cx="770.0" cy="354.8" r="4.85"/><circle cx="789.2" cy="354.8" r="4.85"/><circle cx="808.4" cy="354.8" r="4.85"/><circle cx="827.6" cy="354.8" r="4.85"/><circle cx="846.8" cy="354.8" r="4.85"/><circle cx="866.0" cy="354.8" r="4.85"/><circle cx="885.2" cy="354.8" r="4.85"/><circle cx="904.4" cy="354.8" r="4.85"/><circle cx="923.6" cy="354.8" r="4.85"/><circle cx="731.6" cy="375.8" r="4.85"/><circle cx="750.8" cy="375.8" r="4.85"/><circle cx="770.0" cy="375.8" r="4.85"/><circle cx="789.2" cy="375.8" r="4.85"/><circle cx="808.4" cy="375.8" r="4.85"/><circle cx="827.6" cy="375.8" r="4.85"/><circle cx="846.8" cy="375.8" r="4.85"/><circle cx="866.0" cy="375.8" r="4.85"/><circle cx="885.2" cy="375.8" r="4.85"/><circle cx="904.4" cy="375.8" r="4.85"/><circle cx="923.6" cy="375.8" r="4.85"/><circle cx="731.6" cy="396.8" r="4.85"/><circle cx="750.8" cy="396.8" r="4.85"/><circle cx="770.0" cy="396.8" r="4.85"/><circle cx="789.2" cy="396.8" r="4.85"/><circle cx="808.4" cy="396.8" r="4.85"/><circle cx="827.6" cy="396.8" r="4.85"/><circle cx="846.8" cy="396.8" r="4.85"/><circle cx="866.0" cy="396.8" r="4.85"/><circle cx="885.2" cy="396.8" r="4.85"/><circle cx="904.4" cy="396.8" r="4.85"/><circle cx="770.0" cy="417.8" r="4.85"/><circle cx="789.2" cy="417.8" r="4.85"/><circle cx="808.4" cy="417.8" r="4.85"/><circle cx="827.6" cy="417.8" r="4.85"/><circle cx="846.8" cy="417.8" r="4.85"/></g><g fill="#0000ff"><circle cx="1019.6" cy="81.6" r="4.85"/><circle cx="1000.4" cy="102.6" r="4.85"/><circle cx="1019.6" cy="102.6" r="4.85"/><circle cx="962.0" cy="123.6" r="4.85"/><circle cx="981.2" cy="123.6" r="4.85"/><circle cx="1000.4" cy="123.6" r="4.85"/><circle cx="1019.6" cy="123.6" r="4.85"/><circle cx="942.8" cy="144.6" r="4.85"/><circle cx="962.0" cy="144.6" r="4.85"/><circle cx="981.2" cy="144.6" r="4.85"/><circle cx="1000.4" cy="144.6" r="4.85"/><circle cx="1019.6" cy="144.6" r="4.85"/><circle cx="942.8" cy="165.6" r="4.85"/><circle cx="962.0" cy="165.6" r="4.85"/><circle cx="981.2" cy="165.6" r="4.85"/><circle cx="1000.4" cy="165.6" r="4.85"/><circle cx="1019.6" cy="165.6" r="4.85"/><circle cx="942.8" cy="186.6" r="4.85"/><circle cx="962.0" cy="186.6" r="4.85"/><circle cx="981.2" cy="186.6" r="4.85"/><circle cx="1000.4" cy="186.6" r="4.85"/><circle cx="1019.6" cy="186.6" r="4.85"/><circle cx="942.8" cy="207.7" r="4.85"/><circle cx="962.0" cy="207.7" r="4.85"/><circle cx="981.2" cy="207.7" r="4.85"/><circle cx="1000.4" cy="207.7" r="4.85"/><circle cx="1019.6" cy="207.7" r="4.85"/><circle cx="962.0" cy="228.7" r="4.85"/><circle cx="981.2" cy="228.7" r="4.85"/><circle cx="1000.4" cy="228.7" r="4.85"/><circle cx="1019.6" cy="228.7" r="4.85"/><circle cx="962.0" cy="249.7" r="4.85"/><circle cx="981.2" cy="249.7" r="4.85"/><circle cx="1000.4" cy="249.7" r="4.85"/><circle cx="1019.6" cy="249.7" r="4.85"/><circle cx="962.0" cy="270.7" r="4.85"/><circle cx="981.2" cy="270.7" r="4.85"/><circle cx="1000.4" cy="270.7" r="4.85"/><circle cx="1019.6" cy="270.7" r="4.85"/><circle cx="962.0" cy="291.7" r="4.85"/><circle cx="981.2" cy="291.7" r="4.85"/><circle cx="1000.4" cy="291.7" r="4.85"/><circle cx="1019.6" cy="291.7" r="4.85"/><circle cx="962.0" cy="312.7" r="4.85"/><circle cx="981.2" cy="312.7" r="4.85"/><circle cx="1000.4" cy="312.7" r="4.85"/><circle cx="1019.6" cy="312.7" r="4.85"/><circle cx="962.0" cy="333.7" r="4.85"/><circle cx="981.2" cy="333.7" r="4.85"/><circle cx="1000.4" cy="333.7" r="4.85"/><circle cx="1019.6" cy="333.7" r="4.85"/><circle cx="942.8" cy="354.8" r="4.85"/><circle cx="962.0" cy="354.8" r="4.85"/><circle cx="981.2" cy="354.8" r="4.85"/><circle cx="1000.4" cy="354.8" r="4.85"/><circle cx="1019.6" cy="354.8" r="4.85"/><circle cx="942.8" cy="375.8" r="4.85"/><circle cx="962.0" cy="375.8" r="4.85"/><circle cx="981.2" cy="375.8" r="4.85"/><circle cx="1000.4" cy="375.8" r="4.85"/><circle cx="1019.6" cy="375.8" r="4.85"/><circle cx="712.4" cy="396.8" r="4.85"/><circle cx="923.6" cy="396.8" r="4.85"/><circle cx="942.8" cy="396.8" r="4.85"/><circle cx="962.0" cy="396.8" r="4.85"/><circle cx="981.2" cy="396.8" r="4.85"/><circle cx="1000.4" cy="396.8" r="4.85"/><circle cx="1019.6" cy="396.8" r="4.85"/><circle cx="712.4" cy="417.8" r="4.85"/><circle cx="731.6" cy="417.8" r="4.85"/><circle cx="750.8" cy="417.8" r="4.85"/><circle cx="866.0" cy="417.8" r="4.85"/><circle cx="885.2" cy="417.8" r="4.85"/><circle cx="904.4" cy="417.8" r="4.85"/><circle cx="923.6" cy="417.8" r="4.85"/><circle cx="942.8" cy="417.8" r="4.85"/><circle cx="962.0" cy="417.8" r="4.85"/><circle cx="981.2" cy="417.8" r="4.85"/><circle cx="1000.4" cy="417.8" r="4.85"/><circle cx="1019.6" cy="417.8" r="4.85"/><circle cx="693.2" cy="438.8" r="4.85"/><circle cx="712.4" cy="438.8" r="4.85"/><circle cx="731.6" cy="438.8" r="4.85"/><circle cx="750.8" cy="438.8" r="4.85"/><circle cx="770.0" cy="438.8" r="4.85"/><circle cx="789.2" cy="438.8" r="4.85"/><circle cx="808.4" cy="438.8" r="4.85"/><circle cx="827.6" cy="438.8" r="4.85"/><circle cx="846.8" cy="438.8" r="4.85"/><circle cx="866.0" cy="438.8" r="4.85"/><circle cx="885.2" cy="438.8" r="4.85"/><circle cx="904.4" cy="438.8" r="4.85"/><circle cx="923.6" cy="438.8" r="4.85"/><circle cx="942.8" cy="438.8" r="4.85"/><circle cx="962.0" cy="438.8" r="4.85"/><circle cx="981.2" cy="438.8" r="4.85"/><circle cx="1000.4" cy="438.8" r="4.85"/><circle cx="1019.6" cy="438.8" r="4.85"/><circle cx="674.0" cy="459.8" r="4.85"/><circle cx="693.2" cy="459.8" r="4.85"/><circle cx="712.4" cy="459.8" r="4.85"/><circle cx="731.6" cy="459.8" r="4.85"/><circle cx="750.8" cy="459.8" r="4.85"/><circle cx="770.0" cy="459.8" r="4.85"/><circle cx="789.2" cy="459.8" r="4.85"/><circle cx="808.4" cy="459.8" r="4.85"/><circle cx="827.6" cy="459.8" r="4.85"/><circle cx="846.8" cy="459.8" r="4.85"/><circle cx="866.0" cy="459.8" r="4.85"/><circle cx="885.2" cy="459.8" r="4.85"/><circle cx="904.4" cy="459.8" r="4.85"/><circle cx="923.6" cy="459.8" r="4.85"/><circle cx="942.8" cy="459.8" r="4.85"/><circle cx="962.0" cy="459.8" r="4.85"/><circle cx="981.2" cy="459.8" r="4.85"/><circle cx="1000.4" cy="459.8" r="4.85"/><circle cx="1019.6" cy="459.8" r="4.85"/><circle cx="654.8" cy="480.9" r="4.85"/><circle cx="674.0" cy="480.9" r="4.85"/><circle cx="693.2" cy="480.9" r="4.85"/><circle cx="712.4" cy="480.9" r="4.85"/><circle cx="731.6" cy="480.9" r="4.85"/><circle cx="750.8" cy="480.9" r="4.85"/><circle cx="770.0" cy="480.9" r="4.85"/><circle cx="789.2" cy="480.9" r="4.85"/><circle cx="808.4" cy="480.9" r="4.85"/><circle cx="827.6" cy="480.9" r="4.85"/><circle cx="846.8" cy="480.9" r="4.85"/><circle cx="866.0" cy="480.9" r="4.85"/><circle cx="885.2" cy="480.9" r="4.85"/><circle cx="904.4" cy="480.9" r="4.85"/><circle cx="923.6" cy="480.9" r="4.85"/><circle cx="942.8" cy="480.9" r="4.85"/><circle cx="962.0" cy="480.9" r="4.85"/><circle cx="981.2" cy="480.9" r="4.85"/><circle cx="1000.4" cy="480.9" r="4.85"/><circle cx="1019.6" cy="480.9" r="4.85"/></g><rect x="109.5" y="40.5" width="423.0" height="462.0" fill="none" stroke="#000" stroke-width="1.1"/><rect x="616.5" y="40.5" width="423.0" height="462.0" fill="none" stroke="#000" stroke-width="1.1"/><path d="M120.50 502.5v5.0M218.50 502.5v5.0M316.50 502.5v5.0M415.50 502.5v5.0M513.50 502.5v5.0M109.5 48.50h-5.0M109.5 104.50h-5.0M109.5 159.50h-5.0M109.5 215.50h-5.0M109.5 270.50h-5.0M109.5 326.50h-5.0M109.5 381.50h-5.0M109.5 437.50h-5.0M109.5 492.50h-5.0M636.50 502.5v5.0M732.50 502.5v5.0M828.50 502.5v5.0M924.50 502.5v5.0M1020.50 502.5v5.0M616.5 61.50h-5.0M616.5 113.50h-5.0M616.5 166.50h-5.0M616.5 218.50h-5.0M616.5 271.50h-5.0M616.5 323.50h-5.0M616.5 376.50h-5.0M616.5 428.50h-5.0M616.5 481.50h-5.0" stroke="#000" stroke-width="1.1" fill="none"/><text x="60.60" y="57.15" font-size="27" style="font-family:'Liberation Serif';font-style:normal" textLength="37.35" lengthAdjust="spacing">2.0</text><text x="58.50" y="112.65" font-size="27" style="font-family:'Liberation Serif';font-style:normal" textLength="40.05" lengthAdjust="spacing">1.5</text><text x="58.50" y="168.15" font-size="27" style="font-family:'Liberation Serif';font-style:normal" textLength="40.05" lengthAdjust="spacing">1.0</text><text x="60.60" y="223.65" font-size="27" style="font-family:'Liberation Serif';font-style:normal" textLength="37.35" lengthAdjust="spacing">0.5</text><text x="60.60" y="279.15" font-size="27" style="font-family:'Liberation Serif';font-style:normal" textLength="37.35" lengthAdjust="spacing">0.0</text><rect x="41.40" y="325.65" width="15.70" height="2.0" fill="#000"/><text x="60.60" y="334.65" font-size="27" style="font-family:'Liberation Serif';font-style:normal" textLength="37.35" lengthAdjust="spacing">0.5</text><rect x="41.40" y="381.15" width="15.70" height="2.0" fill="#000"/><text x="58.50" y="390.15" font-size="27" style="font-family:'Liberation Serif';font-style:normal" textLength="40.05" lengthAdjust="spacing">1.0</text><rect x="41.40" y="436.65" width="15.70" height="2.0" fill="#000"/><text x="58.50" y="445.65" font-size="27" style="font-family:'Liberation Serif';font-style:normal" textLength="40.05" lengthAdjust="spacing">1.5</text><rect x="41.40" y="492.15" width="15.70" height="2.0" fill="#000"/><text x="60.60" y="501.15" font-size="27" style="font-family:'Liberation Serif';font-style:normal" textLength="37.35" lengthAdjust="spacing">2.0</text><rect x="104.14" y="520.95" width="16.00" height="2.0" fill="#000"/><text x="123.10" y="529.95" font-size="27" style="font-family:'Liberation Serif';font-style:normal">2</text><rect x="202.38" y="520.95" width="16.00" height="2.0" fill="#000"/><text x="220.10" y="529.95" font-size="27" style="font-family:'Liberation Serif';font-style:normal">1</text><text x="309.95" y="529.95" font-size="27" style="font-family:'Liberation Serif';font-style:normal">0</text><text x="407.25" y="529.95" font-size="27" style="font-family:'Liberation Serif';font-style:normal">1</text><text x="507.20" y="529.95" font-size="27" style="font-family:'Liberation Serif';font-style:normal">2</text><text x="550.55" y="69.85" font-size="27" style="font-family:'Liberation Serif';font-style:normal" textLength="56.05" lengthAdjust="spacing">1.00</text><text x="552.15" y="122.39" font-size="27" style="font-family:'Liberation Serif';font-style:normal" textLength="53.65" lengthAdjust="spacing">0.75</text><text x="552.15" y="174.93" font-size="27" style="font-family:'Liberation Serif';font-style:normal" textLength="53.65" lengthAdjust="spacing">0.50</text><text x="552.15" y="227.46" font-size="27" style="font-family:'Liberation Serif';font-style:normal" textLength="53.65" lengthAdjust="spacing">0.25</text><text x="552.15" y="280.00" font-size="27" style="font-family:'Liberation Serif';font-style:normal" textLength="53.65" lengthAdjust="spacing">0.00</text><rect x="533.40" y="323.54" width="15.50" height="2.0" fill="#000"/><text x="552.15" y="332.54" font-size="27" style="font-family:'Liberation Serif';font-style:normal" textLength="53.65" lengthAdjust="spacing">0.25</text><rect x="533.40" y="376.07" width="15.50" height="2.0" fill="#000"/><text x="552.15" y="385.07" font-size="27" style="font-family:'Liberation Serif';font-style:normal" textLength="53.65" lengthAdjust="spacing">0.50</text><rect x="533.40" y="428.61" width="15.50" height="2.0" fill="#000"/><text x="552.15" y="437.61" font-size="27" style="font-family:'Liberation Serif';font-style:normal" textLength="53.65" lengthAdjust="spacing">0.75</text><rect x="533.40" y="481.15" width="15.50" height="2.0" fill="#000"/><text x="550.55" y="490.15" font-size="27" style="font-family:'Liberation Serif';font-style:normal" textLength="56.05" lengthAdjust="spacing">1.00</text><rect x="608.20" y="520.95" width="16.20" height="2.0" fill="#000"/><text x="625.95" y="529.95" font-size="27" style="font-family:'Liberation Serif';font-style:normal" textLength="38.55" lengthAdjust="spacing">1.0</text><rect x="704.20" y="520.95" width="16.20" height="2.0" fill="#000"/><text x="723.00" y="529.95" font-size="27" style="font-family:'Liberation Serif';font-style:normal" textLength="38.25" lengthAdjust="spacing">0.5</text><text x="808.90" y="529.95" font-size="27" style="font-family:'Liberation Serif';font-style:normal" textLength="37.35" lengthAdjust="spacing">0.0</text><text x="904.90" y="529.95" font-size="27" style="font-family:'Liberation Serif';font-style:normal" textLength="37.35" lengthAdjust="spacing">0.5</text><text x="1000.45" y="529.95" font-size="27" style="font-family:'Liberation Serif';font-style:normal" textLength="38.25" lengthAdjust="spacing">1.0</text><text x="143.75" y="32.35" font-size="31.5" style="font-family:'Liberation Serif';font-style:normal" textLength="355.10" lengthAdjust="spacingAndGlyphs">valeur -1=red +1=blue</text><text x="791.05" y="31.70" font-size="33.0" style="font-family:'Liberation Serif';font-style:normal" textLength="73.34" lengthAdjust="spacingAndGlyphs">KNN</text><text x="308.15" y="557.50" font-size="27.4" style="font-family:'Liberation Sans';font-style:italic" textLength="14.07" lengthAdjust="spacingAndGlyphs">x</text><text x="323.75" y="561.15" font-size="17.7" style="font-family:'Liberation Sans';font-style:normal" textLength="9.36" lengthAdjust="spacingAndGlyphs">1</text><text x="815.15" y="557.50" font-size="27.4" style="font-family:'Liberation Sans';font-style:italic" textLength="14.07" lengthAdjust="spacingAndGlyphs">x</text><text x="830.75" y="561.15" font-size="17.7" style="font-family:'Liberation Sans';font-style:normal" textLength="9.36" lengthAdjust="spacingAndGlyphs">1</text><text transform="translate(25.55,284.20) rotate(-90)" x="0" y="0" font-size="27.4" style="font-family:'Liberation Sans';font-style:italic" textLength="13.18" lengthAdjust="spacingAndGlyphs">x</text><text transform="translate(29.15,269.85) rotate(-90)" x="0" y="0" font-size="17.7" style="font-family:'Liberation Sans';font-style:normal" textLength="10.59" lengthAdjust="spacingAndGlyphs">2</text></svg></body></html>
